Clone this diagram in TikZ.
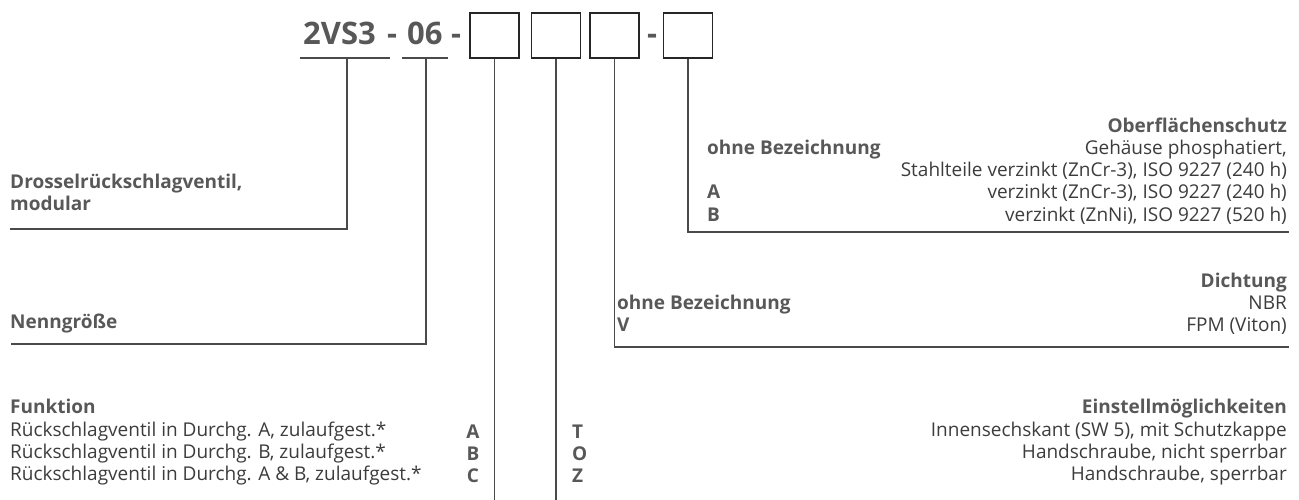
\documentclass[tikz,border=0pt]{standalone}
\usepackage{fontspec}
\setmainfont{Open Sans}
\definecolor{txt}{HTML}{3C3C3C}
\definecolor{btxt}{HTML}{585858}
\definecolor{ln}{HTML}{4A4A4A}
\definecolor{bx}{HTML}{262626}
\begin{document}
\begin{tikzpicture}[x=1pt,y=-1pt,
  lbl/.style={inner sep=0pt, text=txt, font=\fontsize{19}{22}\selectfont},
  bld/.style={inner sep=0pt, text=btxt, font=\fontsize{19}{22}\selectfont\bfseries},
  head/.style={inner sep=0pt, text=btxt, font=\fontsize{31}{36}\selectfont\bfseries},
  codebox/.style={draw=bx, line width=1.3pt, minimum width=49pt, minimum height=45pt, inner sep=0pt},
  conn/.style={draw=ln, line width=1.3pt}]
\useasboundingbox (0,0) rectangle (1299,500);

% header
\node[head, anchor=base west] (t1) at (303,45) {2VS3};
\node[head, anchor=base] (d1) at (392,45) {-};
\node[head, anchor=base west] (t2) at (407,45) {06};
\node[head, anchor=base] (d2) at (456,45) {-};
\node[codebox] (b1) at (494.5,35.5) {};
\node[codebox] (b2) at (556,35.5) {};
\node[codebox] (b3) at (614.5,35.5) {};
\node[head, anchor=base] (d3) at (652,45) {-};
\node[codebox] (b4) at (688,35.5) {};

% underlines
\coordinate (u1a) at (300,58); \coordinate (u1b) at (390,58);
\coordinate (u2a) at (402,58); \coordinate (u2b) at (448,58);
\draw[conn] (u1a) -- (u1b);
\draw[conn] (u2a) -- (u2b);

% left labels
\node[bld, anchor=base west] (drossel) at (10,189) {Drosselrückschlagventil,};
\node[bld, anchor=base west] (modular) at (10,211) {modular};
\node[bld, anchor=base west] (nenn) at (10,328) {Nenngröße};
\node[bld, anchor=base west] (funk) at (10,413) {Funktion};
\node[lbl, anchor=base west] (f1) at (10,436) {Rückschlagventil in Durchg. A, zulaufgest.*};
\node[lbl, anchor=base west] (f2) at (10,458) {Rückschlagventil in Durchg. B, zulaufgest.*};
\node[lbl, anchor=base west] (f3) at (10,480) {Rückschlagventil in Durchg. A \& B, zulaufgest.*};
\node[bld, anchor=base] (fa) at (473,438) {A};
\node[bld, anchor=base] (fb) at (473,460) {B};
\node[bld, anchor=base] (fc) at (473,482) {C};
\node[bld, anchor=base west] (et) at (572,438) {T};
\node[bld, anchor=base west] (eo) at (572,460) {O};
\node[bld, anchor=base west] (ez) at (572,482) {Z};

% Oberflächenschutz
\node[bld, anchor=base east] (ob) at (1287,133) {Oberflächenschutz};
\node[bld, anchor=base west] (ob1) at (707,155) {ohne Bezeichnung};
\node[lbl, anchor=base east] (ob1t) at (1287,155) {Gehäuse phosphatiert,};
\node[lbl, anchor=base east] (ob1u) at (1287,177) {Stahlteile verzinkt (ZnCr-3), ISO 9227 (240 h)};
\node[bld, anchor=base west] (ob2) at (707,199) {A};
\node[lbl, anchor=base east] (ob2t) at (1287,199) {verzinkt (ZnCr-3), ISO 9227 (240 h)};
\node[bld, anchor=base west] (ob3) at (707,221) {B};
\node[lbl, anchor=base east] (ob3t) at (1287,221) {verzinkt (ZnNi), ISO 9227 (520 h)};

% Dichtung
\node[bld, anchor=base east] (di) at (1287,287) {Dichtung};
\node[bld, anchor=base west] (di1) at (617,309) {ohne Bezeichnung};
\node[lbl, anchor=base east] (di1t) at (1287,309) {NBR};
\node[bld, anchor=base west] (di2) at (617,331) {V};
\node[lbl, anchor=base east] (di2t) at (1287,331) {FPM (Viton)};

% Einstellmöglichkeiten
\node[bld, anchor=base east] (ei) at (1287,413) {Einstellmöglichkeiten};
\node[lbl, anchor=base east] (ei1) at (1287,436) {Innensechskant (SW 5), mit Schutzkappe};
\node[lbl, anchor=base east] (ei2) at (1287,458) {Handschraube, nicht sperrbar};
\node[lbl, anchor=base east] (ei3) at (1287,480) {Handschraube, sperrbar};

% connectors
\coordinate (c1) at (347,58);
\coordinate (c2) at (426,58);
\coordinate (e1) at (10,229);
\coordinate (e2) at (11,344);
\coordinate (e3) at (1289,232);
\coordinate (e4) at (1289,347);
\draw[conn] (c1) |- (e1);
\draw[conn] (c2) |- (e2);
\draw[conn] (b4.south) |- (e3);
\draw[conn] (b3.south) |- (e4);
\draw[conn] (b1.south) -- (b1.south |- 0,500);
\draw[conn] (b2.south) -- (b2.south |- 0,500);
\end{tikzpicture}
\end{document}
